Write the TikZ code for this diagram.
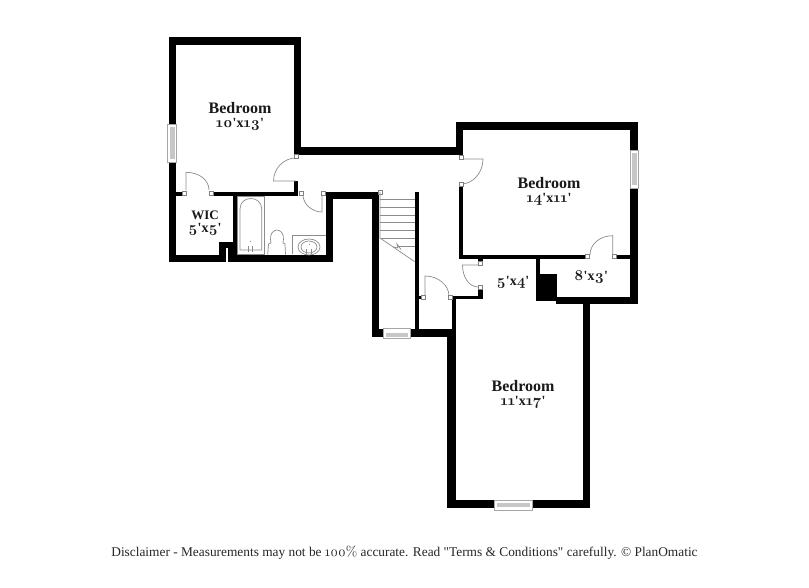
\documentclass[tikz,border=0pt]{standalone}
\usepackage{fontspec}
\setmainfont{Liberation Serif}
\newfontfamily\rs{Liberation Serif}
\newfontfamily\lmos[Numbers=OldStyle]{Latin Modern Roman}
\newcommand{\nm}[1]{{\fontsize{15}{15}\selectfont\lmos\bfseries #1}}
\newcommand{\xs}{{\fontsize{14}{14}\selectfont x}}
\tikzset{
  wall/.style={fill=black,draw=none},
  thin line/.style={draw=black!45,line width=0.7pt},
  jamb/.style={draw=black!50,fill=white,line width=0.5pt},
  winout/.style={draw=black!35,fill=white,line width=0.6pt},
  winin/.style={draw=none,fill=black!22},
  roomlabel/.style={font=\rs\fontsize{16}{16}\selectfont\bfseries,inner sep=0pt,align=center,text=black!90},
  dimlabel/.style={font=\rs\fontsize{14}{14}\selectfont\bfseries,inner sep=0pt,align=center,text=black!90},
  note/.style={font=\rs\fontsize{13.35}{16}\selectfont,inner sep=0pt,text=black!85}
}
\newcommand{\wl}[4]{\fill[wall] (#1,#2) rectangle (#3,#4);}
\newcommand{\jm}[2]{\draw[jamb] (#1-2,#2-2) rectangle (#1+2,#2+2);}
\newcommand{\win}[8]{\draw[winout] (#1,#2) rectangle (#3,#4); \fill[winin] (#5,#6) rectangle (#7,#8);}
\begin{document}
\begin{tikzpicture}[x=1pt,y=-1pt]
\useasboundingbox (0,0) rectangle (809,588);
\fill[white] (0,0) rectangle (809,588);
% walls: upper left bedroom
\wl{168.5}{36.7}{301.3}{44.7}
\wl{168.5}{36.7}{176}{262.3}
\wl{294}{36.7}{301.3}{155}
\wl{294}{147.3}{463}{155}
\wl{176}{192.3}{184}{196}
\wl{213}{192.3}{298.3}{196}
\wl{294}{180.7}{298.3}{196}
% right bedroom
\wl{455.7}{122.3}{463.3}{155}
\wl{455.7}{122.3}{637.7}{130}
\wl{630}{122.3}{637.7}{304}
\wl{459.3}{185.7}{463.3}{259}
\wl{459.3}{255}{587}{259}
\wl{614}{255}{630}{259}
\wl{478}{259}{483}{262}
% closet and chimney
\wl{536}{259}{540}{301}
\wl{536}{273.7}{556.7}{301}
\wl{536}{297}{637.7}{301}
\wl{556}{297}{637.7}{304}
% lower bedroom
\wl{582.7}{300}{590}{508.3}
\wl{447.3}{500}{494.3}{508.3}
\wl{532.3}{500}{590}{508.3}
\wl{447.3}{336}{455.7}{508.3}
\wl{451.7}{296}{455.7}{337}
\wl{451.7}{296}{482.7}{299.3}
\wl{478}{289}{482.7}{299.3}
% stairs
\wl{371.7}{192}{379.3}{336.7}
\wl{371.7}{329}{383.3}{336.7}
\wl{410.7}{329}{455.7}{336.7}
\wl{414.7}{192}{418.7}{336}
\wl{418.7}{295.7}{421}{299}
\wl{326}{192}{379.3}{199.3}
\wl{326}{192}{333.3}{262.3}
% bath and WIC
\wl{228.3}{255}{333.3}{262.3}
\wl{228.3}{248}{237.3}{262.3}
\wl{232.7}{196}{237.3}{262}
\wl{219.3}{241.7}{237.3}{248}
\wl{219.3}{241.7}{226}{262.3}
\wl{168.5}{255}{226}{262.3}
% windows
\win{167.3}{124.3}{176.5}{162}{169.5}{127}{174.5}{159}
\win{630}{150.7}{638.5}{188}{632}{153.5}{636.5}{185.5}
\win{494.3}{500}{532.3}{510}{497}{503}{530}{507}
\win{383.3}{328.7}{410.7}{338}{386}{333}{408}{337}
% doors
\draw[thin line] (296,181) -- (273.5,181) .. controls (273.5,168.6) and (283.6,158) .. (296,158);
\draw[thin line] (322,196) -- (322,212) .. controls (312.5,212) and (304,205) .. (303,196);
\draw[thin line] (461,159) -- (483,159) .. controls (483,172.8) and (473,184) .. (461,184);
\draw[thin line] (480,265) -- (462.5,265) .. controls (462.5,277) and (469,287) .. (478,287);
\draw[thin line] (425,296) -- (425,276) .. controls (438,276) and (449,285) .. (449,296);
\draw[thin line] (612.7,255) -- (612.7,235.7) .. controls (600,235.7) and (590,244) .. (590,255);
\draw[thin line] (186,190) -- (186,172.3) .. controls (199,172.3) and (209,180) .. (209,190);
\jm{296}{156}
\jm{301.5}{193.5}\jm{323.5}{193.5}
\jm{461}{157}\jm{461}{184}
\jm{480}{263.5}\jm{480}{287}
\jm{423}{297}\jm{450}{297}
\jm{587.7}{256.7}\jm{614}{256.7}
\jm{184}{193.7}\jm{211}{193.7}
\jm{380}{192}
% stairs
\draw[thin line] (380,192) -- (380,238) -- (414.7,261.7);
\draw[thin line] (380,199.3) -- (414.7,199.3);
\draw[thin line] (380,207.3) -- (414.7,207.3);
\draw[thin line] (380,215) -- (414.7,215);
\draw[thin line] (380,222.7) -- (414.7,222.7);
\draw[thin line] (380,230.7) -- (414.7,230.7);
\draw[thin line] (380,238.3) -- (414.7,238.3);
\draw[thin line] (399,246.3) -- (414.7,246.3);
\draw[thin line] (393,247) -- (398,248) -- (397,244) -- (401,249.5);
% bath fixtures
\draw[thin line] (237.5,196.5) rectangle (264.7,254.5);
\draw[thin line] (240,250) -- (240,209) .. controls (240,195) and (261.7,195) .. (261.7,209) -- (261.7,250) -- cycle;
\draw[thin line] (250,241.5) -- (250,242.5);
\draw[thin line,line width=1pt] (248.5,246.5) -- (248.5,252);
\draw[thin line,line width=1pt] (252,246.5) -- (252,252);
\draw[thin line] (267.7,254.5) -- (268.5,244) -- (271,243) .. controls (269,233) and (274,230) .. (277,230) .. controls (280,230) and (285,233) .. (283,243) -- (285,244) -- (285.5,254.5);
\draw[thin line] (292.3,254.5) -- (292.3,235.3) -- (326,235.3);
\draw[thin line] (309,247) ellipse [x radius=11,y radius=8];
\draw[thin line] (309,247) ellipse [x radius=8,y radius=6];
\draw[thin line,line width=1pt] (306.5,249.5) -- (306.5,254.5);
\draw[thin line,line width=1pt] (311.5,249.5) -- (311.5,254.5);
\draw[thin line] (309,244) -- (309,245);
% labels
\node[roomlabel] (b1) at (240,108.5) {Bedroom};
\node[dimlabel] (d1) at (240,124.5) {\nm{10}'x\nm{13}'};
\node[roomlabel,font=\rs\fontsize{13}{13}\selectfont\bfseries] (w) at (205,215) {WIC};
\node[dimlabel] (wd) at (205,229) {\nm{5}'x\nm{5}'};
\node[roomlabel] (b2) at (549,183.5) {Bedroom};
\node[dimlabel] (d2) at (549,199.5) {\nm{14}'x\nm{11}'};
\node[dimlabel] (d4) at (513,282) {\nm{5}'x\nm{4}'};
\node[dimlabel] (d5) at (591,277) {\nm{8}'x\nm{3}'};
\node[roomlabel] (b3) at (523,386.5) {Bedroom};
\node[dimlabel] (d3) at (523,402.5) {\nm{11}'x\nm{17}'};
\node[note] (dis) at (404.5,553) {Disclaimer - Measurements may not be {\fontsize{14}{16}\selectfont\lmos 100\%} accurate. Read "Terms \& Conditions" carefully. © PlanOmatic};
\end{tikzpicture}
\end{document}
